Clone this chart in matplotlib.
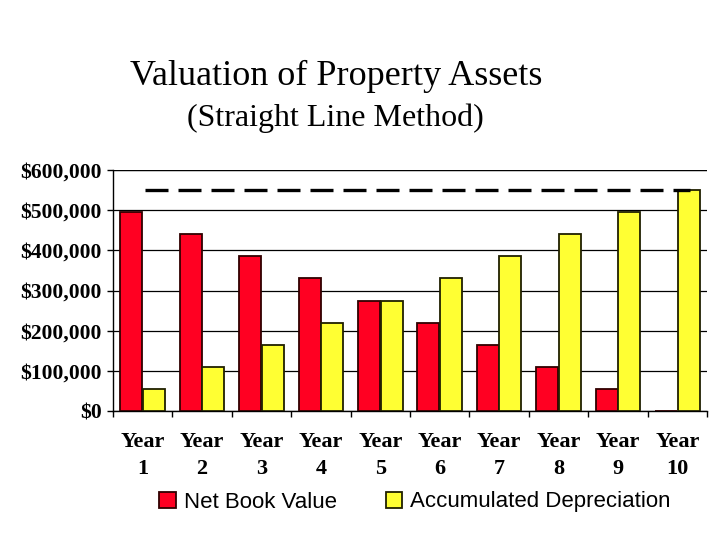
import matplotlib
matplotlib.use("Agg")
import matplotlib.pyplot as plt
import numpy as np

years = ["Year\n1", "Year\n2", "Year\n3", "Year\n4", "Year\n5",
         "Year\n6", "Year\n7", "Year\n8", "Year\n9", "Year\n10"]
net_book_value = [495000, 440000, 385000, 330000, 275000,
                  220000, 165000, 110000, 55000, 0]
accumulated_depreciation = [55000, 110000, 165000, 220000, 275000,
                            330000, 385000, 440000, 495000, 550000]
asset_cost = 550000
y_ticks = [0, 100000, 200000, 300000, 400000, 500000, 600000]
y_labels = ["$0", "$100,000", "$200,000", "$300,000", "$400,000", "$500,000", "$600,000"]

fig = plt.figure(figsize=(7.2, 5.4), dpi=100)
ax = fig.add_axes([113/720, 1-411/540, (707-113)/720, (411-170)/540])

x = np.arange(len(years))
w = 0.37
red = "#FF0022"
yellow = "#FFFF33"
ax.bar(x - 0.19, net_book_value, w, color=red, edgecolor="#300000", linewidth=1.3, zorder=3,
       label="Net Book Value")
ax.bar(x + 0.19, accumulated_depreciation, w, color=yellow, edgecolor="#202000", linewidth=1.3,
       zorder=3, label="Accumulated Depreciation")
ax.plot([0.04, 9.21], [asset_cost, asset_cost], color="black", lw=2.4, dashes=(6.9, 3),
        zorder=4, solid_capstyle="butt", dash_capstyle="butt")

ax.set_xlim(-0.5, 9.5)
ax.set_ylim(0, 600000)
ax.set_yticks(y_ticks)
ax.set_yticklabels(y_labels, fontfamily="Liberation Serif", fontweight="bold", fontsize=15.5)
ax.set_xticks(x)
ax.set_xticklabels(years, fontfamily="Liberation Serif", fontweight="bold", fontsize=16,
                   linespacing=1.45)
ax.set_xticks(np.arange(len(years) + 1) - 0.5, minor=True)
ax.tick_params(axis="x", which="major", length=0, pad=15)
ax.tick_params(axis="x", which="minor", length=4, width=1, direction="out")
ax.tick_params(axis="y", length=4, width=1, direction="out", pad=4)

for s in ["top", "right"]:
    ax.spines[s].set_visible(False)
for s in ["left", "bottom"]:
    ax.spines[s].set_linewidth(1)
ax.yaxis.grid(True, color="black", linewidth=0.9, zorder=0)
ax.set_axisbelow(True)
ax.axhline(600000, color="black", linewidth=0.9, zorder=0)

fig.text(336/720, 1-76/540, "Valuation of Property Assets", fontfamily="Liberation Serif",
         fontsize=26, ha="center", va="center")
fig.text(335/720, 1-118/540, "(Straight Line Method)", fontfamily="Liberation Serif",
         fontsize=23, ha="center", va="center")

fig.legend(loc="center", bbox_to_anchor=(415/720, 1-502/540), ncol=2, frameon=False,
           prop={"family": "Liberation Sans", "size": 16}, handlelength=0.75, handleheight=0.75,
           handletextpad=0.35, columnspacing=2.2)

fig.savefig("out.png", dpi=100)
